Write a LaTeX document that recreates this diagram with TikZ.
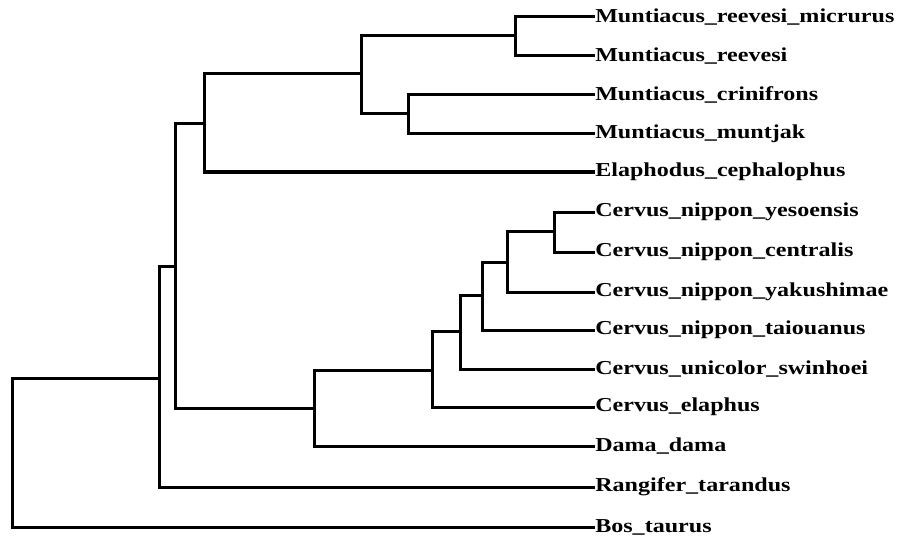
\documentclass[tikz,border=0pt]{standalone}
\usepackage{fontspec}
\setmainfont{Liberation Serif}[FakeStretch=1.22]
\usepackage{tikz}

\tikzset{
  branch/.style={line width=2.25pt, line join=miter},
  taxon/.style={anchor=west, inner sep=0pt, font=\fontsize{14.8pt}{16pt}\selectfont\bfseries},
}

\begin{document}
\begin{tikzpicture}[x=0.75pt, y=-0.75pt]
                    \useasboundingbox (0,0) rectangle (897,542);

                    % taxa
                    \foreach \nm/\yy/\txt in {
                      mrm/17/Muntiacus\_reevesi\_micrurus,
                      mre/56/Muntiacus\_reevesi,
                      mcr/95/Muntiacus\_crinifrons,
                      mmu/134/Muntiacus\_muntjak,
                      ece/172/Elaphodus\_cephalophus,
                      cny/212/Cervus\_nippon\_yesoensis,
                      cnc/252/Cervus\_nippon\_centralis,
                      cnk/292/Cervus\_nippon\_yakushimae,
                      cnt/330/Cervus\_nippon\_taiouanus,
                      cus/369/Cervus\_unicolor\_swinhoei,
                      cel/407/Cervus\_elaphus,
                      dda/446/Dama\_dama,
                      rta/487/Rangifer\_tarandus,
                      bta/527/Bos\_taurus}
                    {\node[taxon] (\nm) at (595,\yy) {\txt};}

                    % inner nodes
                    \coordinate (ree) at (515,36);
                    \coordinate (cri) at (408,114);
                    \coordinate (mun) at (361,74);
                    \coordinate (muel) at (204,124);
                    \coordinate (nipa) at (554,231);
                    \coordinate (nipb) at (507,262);
                    \coordinate (nipc) at (482,295);
                    \coordinate (cera) at (460,331);
                    \coordinate (cerb) at (432,370);
                    \coordinate (ceda) at (314,408);
                    \coordinate (cerv) at (175,266);
                    \coordinate (deer) at (159,378);
                    \coordinate (root) at (12,452);

                    % branches
                    \foreach \a/\b in {ree/mrm, ree/mre, cri/mcr, cri/mmu,
                                       mun/ree, mun/cri, muel/mun, muel/ece,
                                       nipa/cny, nipa/cnc, nipb/nipa, nipb/cnk,
                                       nipc/nipb, nipc/cnt, cera/nipc, cera/cus,
                                       cerb/cera, cerb/cel, ceda/cerb, ceda/dda,
                                       cerv/muel, cerv/ceda, deer/cerv, deer/rta,
                                       root/deer, root/bta}
                    {\draw[branch] (\a) |- (\b);}
                \end{tikzpicture}
\end{document}
